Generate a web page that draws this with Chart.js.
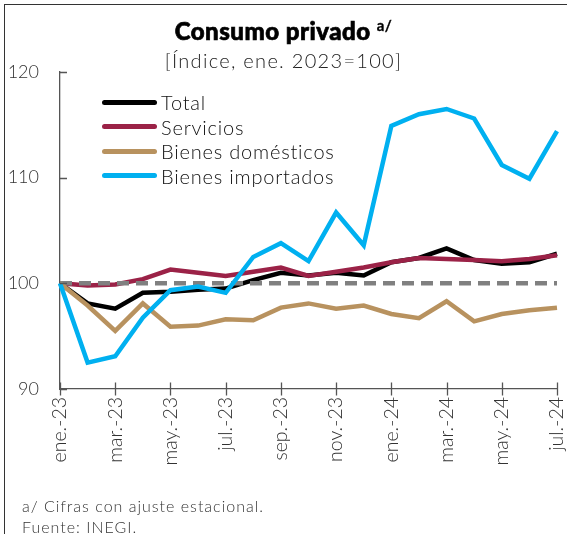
<!DOCTYPE html>
<html>
<head>
<meta charset="utf-8">
<script src="https://cdn.jsdelivr.net/npm/chart.js@4"></script>
<style>
    html, body { margin: 0; padding: 0; background: #fff; }
    body { width: 567px; height: 534px; position: relative; overflow: hidden; font-family: Lato, 'Open Sans', sans-serif; color: #222; }
    #frame { position: absolute; left: 4px; top: 4px; width: 600px; height: 600px; border-left: 1.5px solid #333; border-top: 1.5px solid #333; }
    #chart { position: absolute; left: 0; top: 0; }
    .title { position: absolute; left: 0; width: 567px; text-align: center; line-height: 1.2; }
    #title { top: 16px; font-size: 24px; font-weight: 900; letter-spacing: 0.5px; color: #000; -webkit-text-stroke: 0.7px #000; }
    #title sup { font-size: 15px; font-weight: 700; -webkit-text-stroke: 0.3px #000; }
    #subtitle { top: 48px; font-size: 20px; font-weight: 300; letter-spacing: 1.3px; color: #222; }
    #legend { position: absolute; left: 102px; top: 90px; }
    .legend-row { display: flex; align-items: center; height: 24.5px; font-size: 20px; font-weight: 300; letter-spacing: 0.8px; color: #111; }
    .legend-line { width: 55px; height: 5px; border-radius: 3px; margin-right: 4px; }
    .note { position: absolute; left: 22px; font-size: 16px; font-weight: 300; letter-spacing: 1px; color: #333; line-height: 1.2; }
</style>
</head>
<body>
<div id="frame"></div>
<canvas id="chart" width="567" height="534"></canvas>
<div class="title" id="title">Consumo privado <sup>a/</sup></div>
<div class="title" id="subtitle">[Índice, ene. 2023=100]</div>
<div id="legend"></div>
<div class="note" style="top: 496px;">a/ Cifras con ajuste estacional.</div>
<div class="note" style="top: 517px;">Fuente: INEGI.</div>
<script>
const months = [
    'ene.-23', 'feb.-23', 'mar.-23', 'abr.-23', 'may.-23', 'jun.-23', 'jul.-23', 'ago.-23', 'sep.-23', 'oct.-23',
    'nov.-23', 'dic.-23', 'ene.-24', 'feb.-24', 'mar.-24', 'abr.-24', 'may.-24', 'jun.-24', 'jul.-24'
];

const total = [100, 98.1, 97.6, 99.1, 99.2, 99.4, 99.5, 100.3, 101.0, 100.75, 101.0, 100.75, 102.0, 102.4, 103.3, 102.2, 101.85, 102.0, 102.8];
const servicios = [100, 99.8, 99.9, 100.4, 101.3, 101.0, 100.7, 101.1, 101.5, 100.7, 101.1, 101.5, 102.0, 102.4, 102.3, 102.2, 102.1, 102.3, 102.65];
const bienesDomesticos = [100, 97.9, 95.5, 98.1, 95.9, 96.0, 96.6, 96.5, 97.7, 98.1, 97.6, 97.9, 97.1, 96.7, 98.3, 96.4, 97.1, 97.45, 97.7];
const bienesImportados = [100, 92.5, 93.1, 96.75, 99.35, 99.7, 99.1, 102.5, 103.8, 102.1, 106.7, 103.6, 114.9, 116.0, 116.5, 115.6, 111.2, 109.9, 114.4];

const yTicks = [90, 100, 110, 120];
const refValue = 100;

const series = [
    { label: 'Total', data: total, color: '#000000', order: 4 },
    { label: 'Servicios', data: servicios, color: '#9b2247', order: 3 },
    { label: 'Bienes domésticos', data: bienesDomesticos, color: '#b8925f', order: 2 },
    { label: 'Bienes importados', data: bienesImportados, color: '#00b0f0', order: 1 }
];

Chart.defaults.font.family = 'Lato, "Open Sans", sans-serif';
Chart.defaults.color = '#333';

// legend
const legendBox = document.getElementById('legend');
series.forEach((s) => {
    const row = document.createElement('div');
    row.className = 'legend-row';
    const line = document.createElement('div');
    line.className = 'legend-line';
    line.style.background = s.color;
    const text = document.createElement('span');
    text.textContent = s.label;
    row.appendChild(line);
    row.appendChild(text);
    legendBox.appendChild(row);
});

// dashed reference line, drawn under the tan and blue lines
const refLine = {
    id: 'refLine',
    beforeDatasetDraw(chart, args) {
        if (args.index !== 2) return;
        const { ctx, chartArea } = chart;
        const y = chart.scales.y.getPixelForValue(refValue);
        ctx.save();
        ctx.strokeStyle = '#808080';
        ctx.lineWidth = 4.5;
        ctx.setLineDash([12, 7]);
        ctx.beginPath();
        ctx.moveTo(chartArea.left, y);
        ctx.lineTo(chartArea.right, y);
        ctx.stroke();
        ctx.restore();
    }
};

// tick marks: y inside, x crossing the axis
const tickMarks = {
    id: 'tickMarks',
    afterDraw(chart) {
        const { ctx, chartArea } = chart;
        const xs = chart.scales.x;
        const ys = chart.scales.y;
        ctx.save();
        ctx.strokeStyle = '#555';
        ctx.lineWidth = 1.3;
        ctx.beginPath();
        yTicks.forEach((v) => {
            const y = Math.round(ys.getPixelForValue(v)) + 0.5;
            ctx.moveTo(chartArea.left, y);
            ctx.lineTo(chartArea.left + 7, y);
        });
        months.forEach((m, i) => {
            if (i % 2 !== 0) return;
            const x = Math.round(xs.getPixelForValue(i)) + 0.5;
            ctx.moveTo(x, chartArea.bottom - 6.5);
            ctx.lineTo(x, chartArea.bottom + 6.5);
        });
        ctx.stroke();
        ctx.restore();
    }
};

new Chart(document.getElementById('chart'), {
    type: 'line',
    data: {
        labels: months,
        datasets: series.map((s) => ({
            label: s.label,
            data: s.data,
            order: s.order,
            borderColor: s.color,
            backgroundColor: s.color,
            borderWidth: 4.5,
            pointRadius: 0,
            tension: 0,
            borderJoinStyle: 'miter'
        }))
    },
    options: {
        responsive: false,
        animation: false,
        layout: { padding: { top: 72, right: 10, left: 0, bottom: 0 } },
        plugins: { legend: { display: false }, tooltip: { enabled: false }, title: { display: false } },
        scales: {
            x: {
                offset: false,
                grid: { display: false, drawTicks: false },
                border: { color: '#555', width: 1.3 },
                ticks: {
                    autoSkip: false,
                    minRotation: 90,
                    maxRotation: 90,
                    padding: 8,
                    font: { size: 19.5, weight: 300 },
                    color: '#333',
                    callback: (v, i) => (i % 2 === 0 ? months[i] : '')
                },
                afterFit: (scale) => {
                    scale.height = 145;
                    scale.paddingLeft = 0;
                    scale.paddingRight = 0;
                }
            },
            y: {
                min: 90,
                max: 120,
                grid: { display: false, drawTicks: false },
                border: { color: '#555', width: 1.3 },
                ticks: {
                    stepSize: 10,
                    padding: 21,
                    font: { size: 18, weight: 300 },
                    color: '#333'
                },
                afterFit: (scale) => {
                    scale.width = 60;
                    scale.paddingTop = 0;
                    scale.paddingBottom = 0;
                }
            }
        }
    },
    plugins: [refLine, tickMarks]
});
</script>
</body>
</html>
